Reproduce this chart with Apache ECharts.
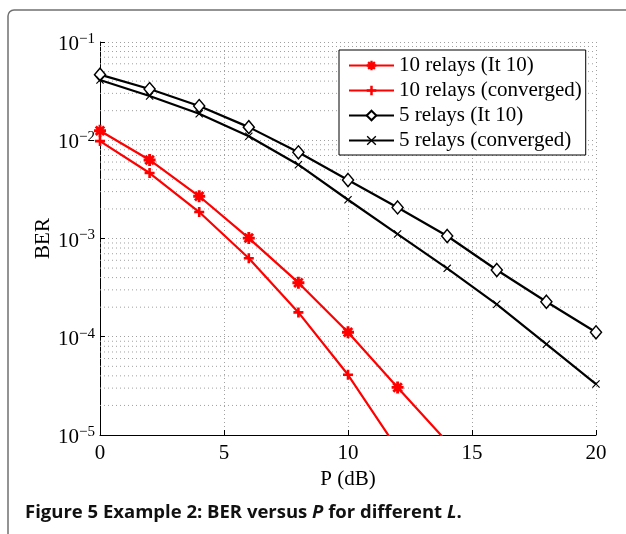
<!DOCTYPE html>
<html>
<head>
<meta charset="utf-8">
<script src="https://cdn.jsdelivr.net/npm/echarts@6/dist/echarts.min.js"></script>
<style>
  html, body { margin: 0; padding: 0; background: #fff; }
  #chart { width: 626px; height: 534px; }
</style>
</head>
<body>
<div id="chart"></div>
<script>
// P (dB) values
const powerDb = [0, 2, 4, 6, 8, 10, 12, 14, 16, 18, 20];

// BER curves
const relays10It10 = [0.0125, 0.0063, 0.00269, 0.00101, 3.55e-4, 1.11e-4, 3.05e-5, 8.5e-6];
const relays10Conv = [0.0098, 0.00464, 0.00186, 6.3e-4, 1.77e-4, 4.1e-5, 7.2e-6];
const relays5It10 = [0.0465, 0.0332, 0.0223, 0.0136, 0.00754, 0.00394, 0.00207, 0.00106, 4.78e-4, 2.27e-4, 1.11e-4];
const relays5Conv = [0.041, 0.0282, 0.0186, 0.011, 0.00564, 0.00248, 0.00111, 4.97e-4, 2.14e-4, 8.4e-5, 3.3e-5];

// minor log grid positions (2..9 x 10^k)
const minorGrid = [];
for (let k = -5; k < -1; k++) {
  for (let m = 2; m <= 9; m++) minorGrid.push(m * Math.pow(10, k));
}

const toPairs = (ys) => ys.map((y, i) => [powerDb[i], y]);

// marker shapes
const starPath = 'path://M-1.2,-5L1.2,-5L1.2,-1.2L5,-1.2L5,1.2L1.2,1.2L1.2,5L-1.2,5L-1.2,1.2L-5,1.2L-5,-1.2L-1.2,-1.2Z' +
  'M2.68,-4.38L4.38,-2.68L1.7,0L4.38,2.68L2.68,4.38L0,1.7L-2.68,4.38L-4.38,2.68L-1.7,0L-4.38,-2.68L-2.68,-4.38L0,-1.7Z';
const plusPath = 'path://M-1.3,-5L1.3,-5L1.3,-1.3L5,-1.3L5,1.3L1.3,1.3L1.3,5L-1.3,5L-1.3,1.3L-5,1.3L-5,-1.3L-1.3,-1.3Z';
const xPath = 'path://M-5,-4L-4,-5L0,-1L4,-5L5,-4L1,0L5,4L4,5L0,1L-4,5L-5,4L-1,0Z';

const serif = 'Liberation Serif';
const gridDot = { type: [1, 3], color: '#a0a0a0', width: 1 };

// dotted horizontal lines for the minor decades, drawn as plain line series
const minorSeries = minorGrid.map((v) => ({
  type: 'line',
  data: [[0, v], [20, v]],
  symbol: 'none',
  silent: true,
  lineStyle: gridDot,
  emphasis: { disabled: true },
  tooltip: { show: false },
  z: 1,
}));

const option = {
  animation: false,
  backgroundColor: '#fff',
  grid: { left: 100, right: 30, top: 42, bottom: 99 },
  legend: {
    orient: 'vertical',
    left: 339,
    top: 50,
    align: 'left',
    itemWidth: 45,
    itemHeight: 12,
    itemGap: 4,
    padding: [5, 4, 4, 9],
    borderColor: '#000',
    borderWidth: 1,
    backgroundColor: '#fff',
    textStyle: { fontFamily: serif, fontSize: 21, lineHeight: 21, color: '#000' },
    data: ['10 relays (It 10)', '10 relays (converged)', '5 relays (It 10)', '5 relays (converged)'],
  },
  xAxis: {
    type: 'value',
    min: 0,
    max: 20,
    interval: 5,
    name: 'P (dB)',
    nameLocation: 'middle',
    nameGap: 34,
    nameMoveOverlap: false,
    nameTextStyle: { fontFamily: serif, fontSize: 21, color: '#000' },
    axisLine: { lineStyle: { color: '#000', width: 1 } },
    axisTick: { inside: true, length: 5, lineStyle: { color: '#000' } },
    axisLabel: { fontFamily: serif, fontSize: 21, color: '#000', margin: 8 },
    splitLine: { show: true, lineStyle: gridDot },
  },
  yAxis: {
    type: 'log',
    logBase: 10,
    min: 1e-5,
    max: 1e-1,
    name: 'BER',
    nameLocation: 'middle',
    nameGap: 46,
    nameMoveOverlap: false,
    nameTextStyle: { fontFamily: serif, fontSize: 21, color: '#000' },
    axisLine: { show: true, lineStyle: { color: '#000', width: 1 } },
    axisTick: { inside: true, length: 5, lineStyle: { color: '#000' } },
    axisLabel: {
      margin: 5,
      formatter: (v) => {
        const e = Math.round(Math.log10(v));
        return '{b|10}{s|' + (e < 0 ? '\u2212' + (-e) : e) + '}';
      },
      rich: {
        b: { fontFamily: serif, fontSize: 21, lineHeight: 21, color: '#000', padding: [5, 0, 0, 0] },
        s: { fontFamily: serif, fontSize: 15, lineHeight: 15, color: '#000', verticalAlign: 'top' },
      },
    },
    splitLine: { show: true, lineStyle: gridDot },
  },
  series: minorSeries.concat([
    {
      name: '10 relays (It 10)',
      type: 'line',
      data: toPairs(relays10It10),
      color: '#ff0000',
      lineStyle: { width: 2.2, color: '#ff0000' },
      symbol: starPath,
      symbolSize: 12,
      z: 5,
    },
    {
      name: '10 relays (converged)',
      type: 'line',
      data: toPairs(relays10Conv),
      color: '#ff0000',
      lineStyle: { width: 2.2, color: '#ff0000' },
      symbol: plusPath,
      symbolSize: 10,
      z: 5,
    },
    {
      name: '5 relays (It 10)',
      type: 'line',
      data: toPairs(relays5It10),
      color: '#000',
      lineStyle: { width: 2.2, color: '#000' },
      symbol: 'diamond',
      symbolSize: [11, 13],
      itemStyle: { color: '#fff', borderColor: '#000', borderWidth: 1.5 },
      z: 5,
    },
    {
      name: '5 relays (converged)',
      type: 'line',
      data: toPairs(relays5Conv),
      color: '#000',
      lineStyle: { width: 2.2, color: '#000' },
      symbol: xPath,
      symbolSize: 8,
      z: 5,
    },
  ]),
  graphic: [
    {
      type: 'rect',
      shape: { x: 8, y: 10, width: 700, height: 600, r: 6 },
      style: { fill: 'none', stroke: '#707070', lineWidth: 1.5 },
      silent: true,
    },
    {
      type: 'text',
      left: 25,
      top: 503,
      style: {
        text: '{n|Figure 5 Example 2: BER versus }{i|P}{n| for different }{i|L}{n|.}',
        rich: {
          n: { fontFamily: 'Open Sans', fontWeight: 'bold', fontSize: 18.5, fill: '#111' },
          i: { fontFamily: 'Open Sans', fontWeight: 'bold', fontStyle: 'italic', fontSize: 18.5, fill: '#111' },
        },
      },
    },
  ],
};

const chart = echarts.init(document.getElementById('chart'));
chart.setOption(option);
</script>
</body>
</html>
